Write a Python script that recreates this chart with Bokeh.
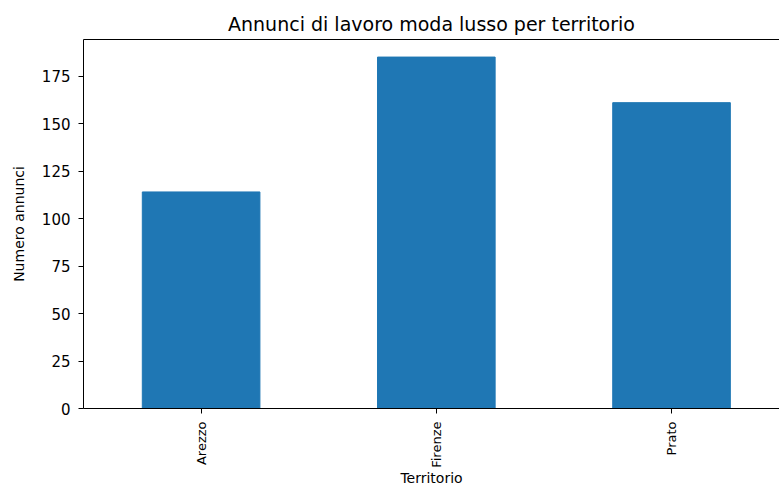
import math
from bokeh.plotting import figure
from bokeh.models import Range1d, FixedTicker, LinearAxis
from bokeh.embed import file_html
from bokeh.resources import INLINE

territori = ["Arezzo", "Firenze", "Prato"]
annunci = [114, 185, 161]
y_ticks = [0, 25, 50, 75, 100, 125, 150, 175]

FONT = "DejaVu Sans"
x_pos = list(range(len(territori)))

p = figure(width=779, height=490, output_backend="svg", toolbar_location=None,
           x_range=Range1d(-0.5, 2.459), y_range=Range1d(0, max(annunci) * 1.05),
           min_border_left=83, min_border_right=0, min_border_top=39, min_border_bottom=82,
           x_axis_label="Territorio", y_axis_label="Numero annunci",
           title="Annunci di lavoro moda lusso per territorio")
p.vbar(x=x_pos, top=annunci, width=0.5, color="#1f77b4", line_color="#1f77b4")

p.outline_line_color = None
p.xgrid.visible = False
p.ygrid.visible = False

p.title.align = "center"
p.title.offset = 3
p.title.text_font = FONT
p.title.text_font_size = "19px"
p.title.text_font_style = "normal"
p.title.text_color = "black"
p.title.standoff = 9

for ax in [p.xaxis[0], p.yaxis[0]]:
    ax.axis_line_color = "black"
    ax.axis_line_width = 1
    ax.major_tick_line_color = "black"
    ax.minor_tick_line_color = None
    ax.major_tick_out = 5
    ax.major_tick_in = 0
    ax.major_label_text_font = FONT
    ax.major_label_text_color = "black"
    ax.axis_label_text_font = FONT
    ax.axis_label_text_font_style = "normal"
    ax.axis_label_text_color = "black"

p.yaxis.major_label_text_font_size = "15px"
p.yaxis.axis_label_text_font_size = "14px"
p.yaxis.ticker = FixedTicker(ticks=y_ticks)
p.yaxis.major_label_standoff = 8
p.yaxis.axis_label_standoff = 12

p.xaxis.major_label_text_font_size = "13px"
p.xaxis.axis_label_text_font_size = "14px"
p.xaxis.axis_label_text_line_height = 0.9
p.xaxis.ticker = FixedTicker(ticks=x_pos)
p.xaxis.major_label_overrides = {i: t for i, t in zip(x_pos, territori)}
p.xaxis.major_label_orientation = math.pi / 2
p.xaxis.major_label_standoff = 8
p.xaxis.axis_label_standoff = -1

top_axis = LinearAxis(ticker=FixedTicker(ticks=[]), axis_line_color="black",
                      major_tick_line_color=None, minor_tick_line_color=None)
p.add_layout(top_axis, "above")

open("out.html", "w").write(file_html(p, INLINE))
